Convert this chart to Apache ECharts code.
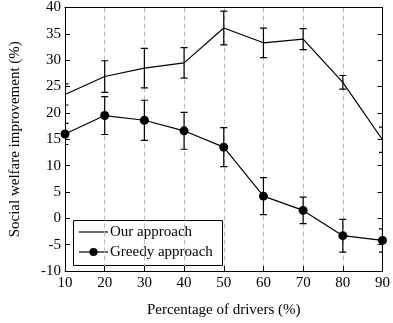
<!DOCTYPE html>
<html>
<head>
<meta charset="utf-8">
<script src="https://cdn.jsdelivr.net/npm/echarts@6/dist/echarts.min.js"></script>
<style>html,body{margin:0;padding:0;background:#fff;}#c{width:393px;height:323px;}</style>
</head>
<body>
<div id="c"></div>
<script>
const xValues = [10, 20, 30, 40, 50, 60, 70, 80, 90];
const ourMean = [23.5, 26.9, 28.5, 29.5, 36.1, 33.3, 34.0, 25.8, 14.9];
const ourErr = [2.0, 3.0, 3.75, 2.9, 3.2, 2.8, 2.0, 1.3, 2.4];
const greedyMean = [16.0, 19.5, 18.6, 16.6, 13.5, 4.2, 1.5, -3.3, -4.2];
const greedyErr = [2.0, 3.6, 3.8, 3.5, 3.7, 3.5, 2.5, 3.1, 2.2];
const seriesNames = ['Our approach', 'Greedy approach'];

const FONT = '"Liberation Serif", "DejaVu Serif", serif';

function errData(mean, err) {
  return xValues.map((x, i) => [x, mean[i] - err[i], mean[i] + err[i]]);
}
function errRender(params, api) {
  const cs = params.coordSys;
  const x = api.value(0);
  const lo = api.coord([x, api.value(1)]);
  const hi = api.coord([x, api.value(2)]);
  const w = 3.5;
  const xa = Math.max(lo[0] - w, cs.x), xb = Math.min(lo[0] + w, cs.x + cs.width);
  const style = { stroke: '#000', lineWidth: 1.2 };
  return {
    type: 'group',
    children: [
      { type: 'line', shape: { x1: lo[0], y1: lo[1], x2: hi[0], y2: hi[1] }, style },
      { type: 'line', shape: { x1: xa, y1: lo[1], x2: xb, y2: lo[1] }, style },
      { type: 'line', shape: { x1: xa, y1: hi[1], x2: xb, y2: hi[1] }, style }
    ]
  };
}

const chart = echarts.init(document.getElementById('c'), null, { renderer: 'canvas' });
const lgX = 73, lgY = 220;
chart.setOption({
  animation: false,
  backgroundColor: '#fff',
  textStyle: { fontFamily: FONT },
  grid: { left: 63, right: 7, top: 6, bottom: 50, show: false },
  graphic: [{
    type: 'group', left: lgX, top: lgY, z: 100,
    children: [
      { type: 'rect', shape: { x: 0.5, y: 0.5, width: 149, height: 45 }, style: { fill: '#fff', stroke: '#000', lineWidth: 1 } },
      { type: 'line', shape: { x1: 6, y1: 12, x2: 35, y2: 12 }, style: { stroke: '#000', lineWidth: 1.2 } },
      { type: 'text', x: 37, y: 12, style: { text: seriesNames[0], font: '15px ' + FONT, fill: '#000', verticalAlign: 'middle' } },
      { type: 'line', shape: { x1: 6, y1: 32, x2: 35, y2: 32 }, style: { stroke: '#000', lineWidth: 1.2 } },
      { type: 'circle', shape: { cx: 20.5, cy: 32, r: 4 }, style: { fill: '#000' } },
      { type: 'text', x: 37, y: 32, style: { text: seriesNames[1], font: '15px ' + FONT, fill: '#000', verticalAlign: 'middle' } }
    ]
  }],
  xAxis: [{
    type: 'value', min: 10, max: 90, interval: 10,
    name: 'Percentage of drivers (%)', nameLocation: 'middle', nameGap: 32,
    nameTextStyle: { fontFamily: FONT, fontSize: 15, color: '#000' },
    axisLine: { show: true, onZero: false, lineStyle: { color: '#000', width: 1 } },
    axisTick: { show: true, inside: true, length: 5, lineStyle: { color: '#000' } },
    axisLabel: { fontFamily: FONT, fontSize: 15, color: '#000', margin: 5 },
    splitLine: { show: true, lineStyle: { color: '#bdbdbd', type: [5, 3], width: 1 } }
  }, {
    type: 'value', min: 10, max: 90, interval: 10, position: 'top',
    axisLine: { show: true, onZero: false, lineStyle: { color: '#000', width: 1 } },
    axisTick: { show: false }, axisLabel: { show: false }, splitLine: { show: false }
  }],
  yAxis: [{
    type: 'value', min: -10, max: 40, interval: 5,
    name: 'Social welfare improvement (%)', nameLocation: 'middle', nameGap: 42,
    nameTextStyle: { fontFamily: FONT, fontSize: 15, color: '#000' },
    axisLine: { show: true, onZero: false, lineStyle: { color: '#000', width: 1 } },
    axisTick: { show: true, inside: true, length: 5, lineStyle: { color: '#000' } },
    axisLabel: { fontFamily: FONT, fontSize: 15, color: '#000', margin: 4 },
    splitLine: { show: false }
  }, {
    type: 'value', min: -10, max: 40, interval: 5, position: 'right',
    axisLine: { show: true, onZero: false, lineStyle: { color: '#000', width: 1 } },
    axisTick: { show: true, inside: true, length: 5, lineStyle: { color: '#000' } },
    axisLabel: { show: false }, splitLine: { show: false }
  }],
  series: [
    {
      name: seriesNames[0], type: 'line',
      data: xValues.map((x, i) => [x, ourMean[i]]),
      symbol: 'none', lineStyle: { color: '#000', width: 1.2 }, itemStyle: { color: '#000' },
      z: 3
    },
    {
      name: seriesNames[1], type: 'line',
      data: xValues.map((x, i) => [x, greedyMean[i]]),
      symbol: 'circle', symbolSize: 9,
      lineStyle: { color: '#000', width: 1.2 }, itemStyle: { color: '#000' },
      z: 4
    },
    { type: 'custom', name: 'err1', renderItem: errRender, data: errData(ourMean, ourErr), z: 5, clip: true },
    { type: 'custom', name: 'err2', renderItem: errRender, data: errData(greedyMean, greedyErr), z: 5, clip: true }
  ]
});
</script>
</body>
</html>
